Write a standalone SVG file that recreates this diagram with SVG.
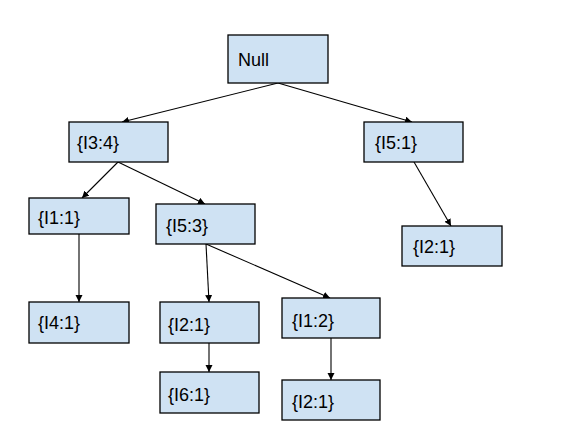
<svg xmlns="http://www.w3.org/2000/svg" width="576" height="432" viewBox="0 0 576 432">
<style>
.box{fill:#cfe2f3;stroke:#000;stroke-width:1.3}
.t{font-family:"Liberation Sans",Arial,sans-serif;font-size:18px;fill:#000}
.e{stroke:#000;stroke-width:1.1;fill:none;marker-end:url(#ah)}
</style>
<defs>
<marker id="ah" markerWidth="8" markerHeight="8" refX="7" refY="3.5" orient="auto" markerUnits="userSpaceOnUse">
<path d="M0,0 L7,3.5 L0,7 z" fill="#000"/>
</marker>
</defs>
<rect width="576" height="432" fill="#fff"/>
<g id="connectors">
<line class="e" x1="278" y1="83" x2="122" y2="122"/>
<line class="e" x1="278" y1="83" x2="412" y2="122"/>
<line class="e" x1="414" y1="162" x2="451" y2="226"/>
<line class="e" x1="118" y1="162" x2="82" y2="198"/>
<line class="e" x1="118" y1="162" x2="205" y2="204"/>
<line class="e" x1="79" y1="234" x2="79" y2="302"/>
<line class="e" x1="206" y1="244" x2="209" y2="302"/>
<line class="e" x1="206" y1="244" x2="330" y2="298"/>
<line class="e" x1="209" y1="343" x2="209" y2="372"/>
<line class="e" x1="331" y1="338" x2="331" y2="380"/>
</g>
<g id="n-null"><rect class="box" x="228" y="35" width="100" height="48"/><text class="t" x="238" y="66">Null</text></g>
<g id="n-i34"><rect class="box" x="69" y="122" width="99" height="40"/><text class="t" x="77" y="149">{I3:4}</text></g>
<g id="n-i51"><rect class="box" x="364" y="122" width="99" height="40"/><text class="t" x="375" y="149">{I5:1}</text></g>
<g id="n-i21r"><rect class="box" x="402" y="226" width="100" height="40"/><text class="t" x="413" y="253">{I2:1}</text></g>
<g id="n-i11"><rect class="box" x="29" y="198" width="100" height="36"/><text class="t" x="38" y="224">{I1:1}</text></g>
<g id="n-i53"><rect class="box" x="156" y="204" width="99" height="40"/><text class="t" x="166" y="232">{I5:3}</text></g>
<g id="n-i41"><rect class="box" x="29" y="302" width="100" height="41"/><text class="t" x="38" y="329">{I4:1}</text></g>
<g id="n-i21m"><rect class="box" x="160" y="302" width="99" height="41"/><text class="t" x="168" y="331">{I2:1}</text></g>
<g id="n-i12"><rect class="box" x="282" y="298" width="98" height="40"/><text class="t" x="292" y="327">{I1:2}</text></g>
<g id="n-i61"><rect class="box" x="160" y="372" width="99" height="41"/><text class="t" x="168" y="401">{I6:1}</text></g>
<g id="n-i21b"><rect class="box" x="282" y="380" width="98" height="40"/><text class="t" x="292" y="408">{I2:1}</text></g>
</svg>
